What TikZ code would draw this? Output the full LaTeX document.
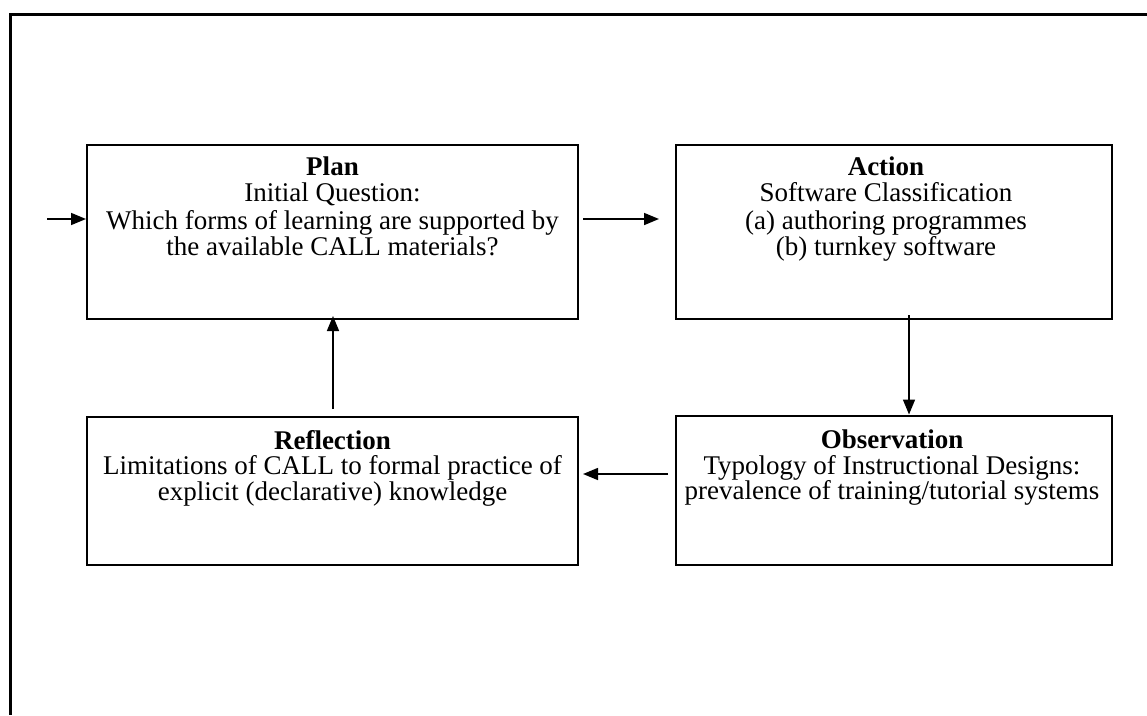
\documentclass[tikz,border=0pt]{standalone}
\usepackage{fontspec}
\setmainfont{Liberation Serif}
\usetikzlibrary{arrows.meta}
\tikzset{
  boxnode/.style={draw, line width=2pt, minimum width=491pt, minimum height=174pt, inner sep=0pt},
  boxnodeR/.style={draw, line width=2pt, minimum width=436pt, minimum height=174pt, inner sep=0pt},
  txt/.style={anchor=north, align=center, inner sep=0pt, font=\fontsize{27}{25.5}\selectfont},
  arr/.style={line width=1.6pt, -{Triangle[length=15pt,width=12pt]}},
  frame/.style={line width=3pt}
}
\begin{document}
\begin{tikzpicture}[x=1pt,y=-1pt]
\useasboundingbox (0,0) rectangle (1147,715);
% outer frame (top and left only)
\coordinate (ftl) at (10.5,14.5);
\coordinate (fr) at (1147,14.5);
\coordinate (fb) at (10.5,715);
\draw[frame] (fr) -- (ftl) -- (fb);
% boxes
\node[boxnode] (plan) at (332.5,232) {};
\node[boxnodeR] (action) at (894,232) {};
\node[boxnode, minimum height=148pt] (refl) at (332.5,491) {};
\node[boxnodeR, minimum height=149pt] (obs) at (894,490) {};
% texts
\node[txt] (plant) at (332.5,157) {\textbf{Plan}\\Initial Question:\\[3pt]Which forms of learning are supported by\\the available CALL materials?};
\node[txt] (actiont) at (886,157) {\textbf{Action}\\Software Classification\\[3pt](a) authoring programmes\\(b) turnkey software};
\node[txt] (reflt) at (332.5,430) {\textbf{Reflection}\\Limitations of CALL to formal practice of\\explicit (declarative) knowledge};
\node[txt] (obst) at (892,430) {\textbf{Observation}\\Typology of Instructional Designs:\\prevalence of training/tutorial systems};
% arrows
\coordinate (in) at (47,219);
\draw[arr] (in) -- (in -| plan.west);
\draw[arr] ([xshift=4pt]plan.east |- in) -- ([xshift=-16pt]action.west |- in);
\coordinate (a1) at (909,315);
\draw[arr] (a1) -- (a1 |- obs.north);
\coordinate (o1) at (668,474);
\draw[arr] (o1) -- ([xshift=4pt]refl.east |- o1);
\coordinate (r1) at (333,409);
\draw[arr] (r1) -- ([yshift=4pt]r1 |- plan.south);
\end{tikzpicture}
\end{document}
